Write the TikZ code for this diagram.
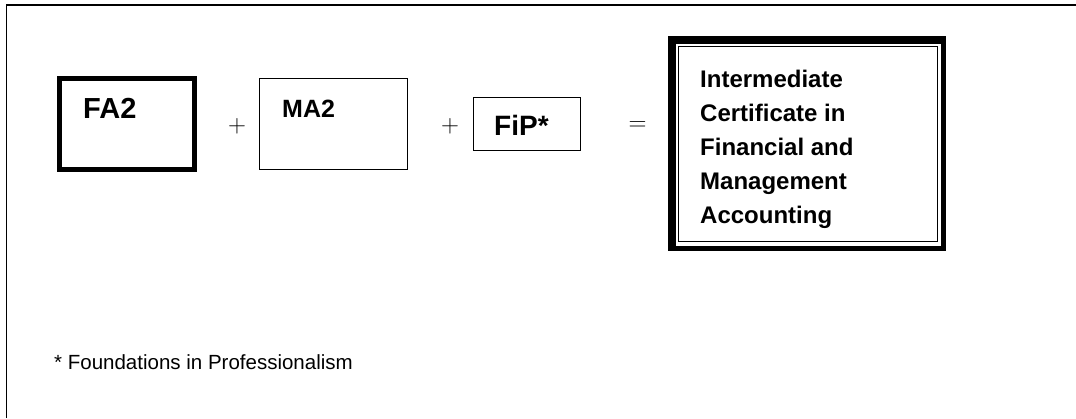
\documentclass[tikz,border=0pt]{standalone}
\usepackage{fontspec}
\setmainfont{Liberation Sans}
\begin{document}
\begin{tikzpicture}[x=1pt,y=-1pt,
  lbl/.style={inner sep=0pt,anchor=base west,font=\bfseries\fontsize{#1}{#1}\selectfont},
  thinbox/.style={draw,line width=1.3pt},
  thickbox/.style={draw,line width=5pt},
  op/.style={inner sep=0pt,font=\rmfamily\fontsize{24}{24}\selectfont}]
\useasboundingbox (0,0) rectangle (1076,418);
% frame
\draw[line width=1.2pt] (6.5,418) -- (6.5,5) -- (1076,5);
% FA2
\draw[thickbox] (59.5,78.5) rectangle (194.5,169.5);
\node[lbl=29] (fa) at (83,118) {FA2};
% MA2
\draw[thinbox] (259.5,78.5) rectangle (407.5,169.5);
\node[lbl=25] (ma) at (282,117) {MA2};
% FiP
\draw[thinbox] (473.5,97.5) rectangle (580.5,150.5);
\node[lbl=28] (fip) at (494,135) {FiP*};
% operators
\node[op] (p1) at (237,126) {$+$};
\node[op] (p2) at (450,126) {$+$};
\node[op] (eq) at (637.5,126) {$=$};
% big box
\fill[black] (668,36) rectangle (946,251);
\fill[white] (676,44) rectangle (941,246);
\draw[line width=1.5pt] (678.5,46.5) rectangle (937.5,241.5);
\node[inner sep=0pt,anchor=base west,align=left,font=\bfseries\fontsize{24}{34}\selectfont] (ic) at (700,223)
 {Intermediate\\Certificate in\\Financial and\\Management\\Accounting};
% footnote
\node[inner sep=0pt,anchor=base west,font=\fontsize{20.5}{20.5}\selectfont] (fn) at (54,369) {* Foundations in Professionalism};
\end{tikzpicture}
\end{document}
